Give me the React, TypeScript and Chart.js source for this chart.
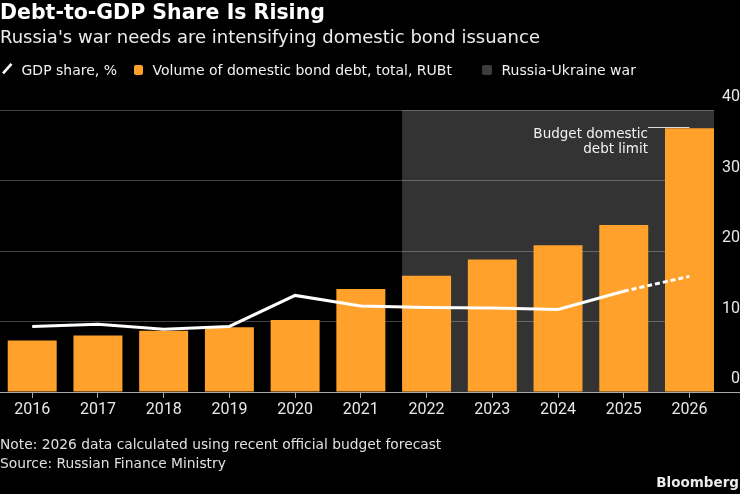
import React, { useEffect, useRef } from "react";
import { Chart, registerables } from "chart.js";

Chart.register(...registerables);

// Calendar years shown on the horizontal axis
const years = [2016, 2017, 2018, 2019, 2020, 2021, 2022, 2023, 2024, 2025, 2026];
// Volume of domestic bond debt, total, RUB trillion
const bondDebt = [7.3, 8.0, 8.7, 9.2, 10.2, 14.6, 16.5, 18.8, 20.8, 23.7, 37.4];
// Domestic bond debt as a share of GDP, %
const gdpShare = [9.3, 9.6, 8.9, 9.3, 13.7, 12.2, 12.0, 11.9, 11.7, 14.3, 16.4];
// Right-hand axis ticks
const yTicks = [0, 10, 20, 30, 40];
// First year of the Russia-Ukraine war band
const warStartYear = 2022;
// The GDP-share line turns dotted from this year on (forecast)
const forecastFromYear = 2025;
// Note attached to the last bar
const limitLabelLines = ["Budget domestic", "debt limit"];

const TEXT_FONT = '"DejaVu Sans", "Noto Sans", sans-serif';
const AXIS_FONT = 'Roboto, "Liberation Sans", sans-serif';
const AXIS_SIZE = 16;
const ORANGE = "#ffa12b";
const WAR_GRAY = "#333333";
const LEGEND_GRAY = "#3c3c3c";

const W = 740;
const H = 494;

// Black page, the war band behind the grid
const backdropPlugin = {
  id: "backdrop",
  beforeDraw(chart: any) {
    const { ctx, chartArea, scales } = chart;
    ctx.save();
    ctx.fillStyle = "#000";
    ctx.fillRect(0, 0, chart.width, chart.height);
    const bars = chart.getDatasetMeta(1).data;
    const bar = bars[years.indexOf(warStartYear)];
    if (bar) {
      const left = bar.x - bar.width / 2;
      const top = scales.y.getPixelForValue(yTicks[yTicks.length - 1]);
      const bottom = scales.y.getPixelForValue(0);
      ctx.fillStyle = WAR_GRAY;
      ctx.fillRect(left, top, chartArea.right - left, bottom - top);
    }
    ctx.restore();
  },
};

// Zero baseline across the full width and the debt-limit callout
const overlayPlugin = {
  id: "overlay",
  afterDatasetsDraw(chart: any) {
    const { ctx, scales } = chart;
    ctx.save();
    const y0 = Math.round(scales.y.getPixelForValue(0)) + 0.5;
    ctx.strokeStyle = "#a8a8a8";
    ctx.lineWidth = 1;
    ctx.beginPath();
    ctx.moveTo(0, y0);
    ctx.lineTo(chart.width, y0);
    ctx.stroke();

    const bars = chart.getDatasetMeta(1).data;
    const last = bars[bars.length - 1];
    if (last) {
      const yTop = scales.y.getPixelForValue(bondDebt[bondDebt.length - 1]);
      const textRight = last.x - last.width / 2 - 17;
      ctx.strokeStyle = "#dcdcdc";
      ctx.beginPath();
      ctx.moveTo(textRight, Math.round(yTop) - 0.5);
      ctx.lineTo(last.x, Math.round(yTop) - 0.5);
      ctx.stroke();
      ctx.fillStyle = "#f2f2f2";
      ctx.font = `13.5px ${TEXT_FONT}`;
      ctx.textAlign = "right";
      ctx.textBaseline = "alphabetic";
      limitLabelLines.forEach((line, i) => {
        ctx.fillText(line, textRight, yTop + 9.5 + i * 15);
      });
    }
    ctx.restore();
  },
};

function Txt(props: {
  x?: number;
  right?: number;
  baseline: number;
  size: number;
  bold?: boolean;
  color?: string;
  children: React.ReactNode;
}) {
  const { x, right, baseline, size, bold, color, children } = props;
  const style: React.CSSProperties = {
    position: "absolute",
    top: baseline - 0.928 * size,
    fontFamily: TEXT_FONT,
    fontSize: size,
    fontWeight: bold ? 700 : 400,
    lineHeight: "normal",
    color: color || "#f2f2f2",
    whiteSpace: "nowrap",
    margin: 0,
  };
  if (right !== undefined) style.right = right;
  else style.left = x;
  return <div style={style}>{children}</div>;
}

export default function App() {
  const canvasRef = useRef<HTMLCanvasElement>(null);

  useEffect(() => {
    document.body.style.margin = "0";
    document.body.style.background = "#000";
    const canvas = canvasRef.current;
    if (!canvas) return;

    const measure = document.createElement("canvas").getContext("2d") as CanvasRenderingContext2D;
    measure.font = `${AXIS_SIZE}px ${AXIS_FONT}`;
    const widest = Math.max(...yTicks.map((t) => measure.measureText(String(t)).width));
    const yLabelPadding = Math.max(0, 23 - widest);

    const chart = new Chart(canvas, {
      type: "bar",
      data: {
        datasets: [
          {
            type: "line",
            label: "GDP share, %",
            data: years.map((x, i) => ({ x, y: gdpShare[i] })),
            borderColor: "#ffffff",
            backgroundColor: "#ffffff",
            borderWidth: 3,
            pointRadius: 0,
            tension: 0,
            order: 0,
            segment: {
              borderDash: (ctx: any) => (ctx.p0.parsed.x >= forecastFromYear ? [5, 3] : undefined),
            },
          } as any,
          {
            type: "bar",
            label: "Volume of domestic bond debt, total, RUBt",
            data: years.map((x, i) => ({ x, y: bondDebt[i] })),
            backgroundColor: ORANGE,
            borderWidth: 0,
            categoryPercentage: 1,
            barPercentage: 0.745,
            order: 1,
          } as any,
        ],
      },
      options: {
        responsive: false,
        animation: false,
        events: [],
        layout: { padding: { top: 110, left: 0, right: 0, bottom: 0 } },
        plugins: {
          legend: { display: false },
          title: { display: false },
          tooltip: { enabled: false },
        },
        scales: {
          x: {
            type: "linear",
            offset: false,
            min: 2015.51,
            max: 2026.373,
            afterBuildTicks: (axis: any) => {
              axis.ticks = years.map((v) => ({ value: v }));
            },
            afterFit: (axis: any) => {
              axis.height = 102;
            },
            grid: {
              offset: false,
              drawOnChartArea: false,
              drawTicks: true,
              tickLength: 6,
              color: "#a8a8a8",
              lineWidth: 1,
            },
            border: { display: false },
            ticks: {
              color: "#e8e8e8",
              font: { family: AXIS_FONT, size: AXIS_SIZE },
              padding: 2,
              maxRotation: 0,
              autoSkip: false,
              callback: (v: any) => String(v),
            },
          },
          y: {
            position: "right",
            min: 0,
            max: 40,
            afterBuildTicks: (axis: any) => {
              axis.ticks = yTicks.map((v) => ({ value: v }));
            },
            afterFit: (axis: any) => {
              axis.width = 26;
            },
            grid: {
              color: (ctx: any) =>
                ctx.tick && ctx.tick.value === 0 ? "rgba(0,0,0,0)" : "rgba(255,255,255,0.26)",
              drawTicks: false,
              lineWidth: 1,
            },
            border: { display: false },
            ticks: {
              color: "#e8e8e8",
              font: { family: AXIS_FONT, size: AXIS_SIZE },
              labelOffset: -13,
              crossAlign: "far",
              padding: yLabelPadding,
              callback: (v: any) => String(v),
            },
          },
        },
      } as any,
      plugins: [backdropPlugin, overlayPlugin],
    });

    return () => chart.destroy();
  }, []);

  return (
    <div
      style={{
        position: "relative",
        width: W,
        height: H,
        background: "#000",
        overflow: "hidden",
      }}
    >
      <canvas
        ref={canvasRef}
        width={W}
        height={H}
        style={{ position: "absolute", left: 0, top: 0, width: W, height: H }}
      />
      <Txt x={0} baseline={19.5} size={20.5} bold color="#ffffff">
        Debt-to-GDP Share Is Rising
      </Txt>
      <Txt x={0} baseline={43} size={18} color="#ececec">
        Russia's war needs are intensifying domestic bond issuance
      </Txt>

      <svg
        width={14}
        height={14}
        style={{ position: "absolute", left: 0, top: 61 }}
        viewBox="0 0 14 14"
      >
        <line x1={3} y1={12.3} x2={11.5} y2={2.8} stroke="#ffffff" strokeWidth={2.6} />
      </svg>
      <Txt x={21.5} baseline={75} size={14}>
        GDP share, %
      </Txt>
      <div
        style={{
          position: "absolute",
          left: 133.5,
          top: 65,
          width: 9.5,
          height: 9.5,
          borderRadius: 2,
          background: ORANGE,
        }}
      />
      <Txt x={152.5} baseline={75} size={14}>
        Volume of domestic bond debt, total, RUBt
      </Txt>
      <div
        style={{
          position: "absolute",
          left: 482,
          top: 65,
          width: 9.5,
          height: 9.5,
          borderRadius: 2,
          background: LEGEND_GRAY,
        }}
      />
      <Txt x={501.5} baseline={75} size={14}>
        Russia-Ukraine war
      </Txt>

      <Txt x={0} baseline={449} size={13.8} color="#e0e0e0">
        Note: 2026 data calculated using recent official budget forecast
      </Txt>
      <Txt x={0} baseline={468} size={13.8} color="#e0e0e0">
        Source: Russian Finance Ministry
      </Txt>
      <Txt right={1} baseline={487} size={13.5} bold color="#ececec">
        Bloomberg
      </Txt>
    </div>
  );
}
